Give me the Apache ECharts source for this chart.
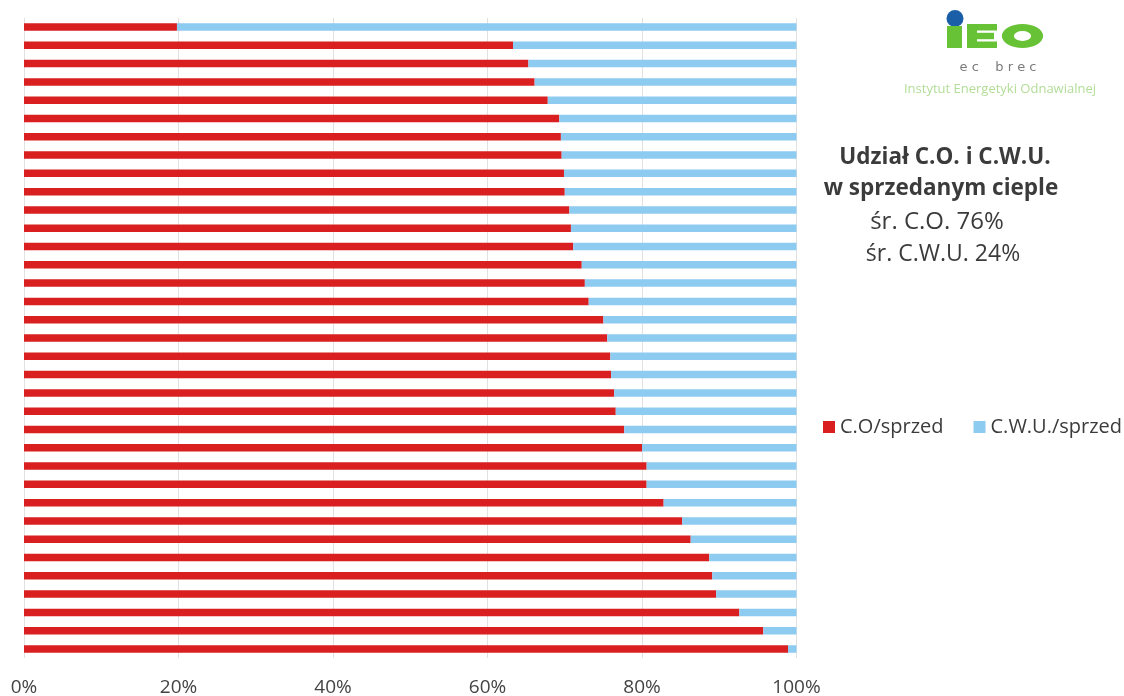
<!DOCTYPE html>
<html>
<head>
<meta charset="utf-8">
<script src="https://cdn.jsdelivr.net/npm/echarts@6/dist/echarts.min.js"></script>
<style>
  html, body { margin: 0; padding: 0; background: #ffffff; }
  #chart { width: 1124px; height: 696px; }
</style>
</head>
<body>
<div id="chart"></div>
<script>
// Heat plants, ordered from the lowest to the highest heating share
const categories = [
  '1', '2', '3', '4', '5', '6', '7', '8', '9', '10',
  '11', '12', '13', '14', '15', '16', '17', '18', '19', '20',
  '21', '22', '23', '24', '25', '26', '27', '28', '29', '30',
  '31', '32', '33', '34', '35'
];

// Share of space heating (C.O.) in heat sold, %
const coShare = [
  19.8, 63.3, 65.3, 66.1, 67.8, 69.3, 69.5, 69.6, 69.9, 70.0,
  70.6, 70.8, 71.1, 72.2, 72.6, 73.1, 75.0, 75.5, 75.9, 76.0,
  76.4, 76.6, 77.7, 80.0, 80.6, 80.6, 82.8, 85.2, 86.3, 88.7,
  89.1, 89.6, 92.6, 95.7, 98.9
];

// Share of domestic hot water (C.W.U.) in heat sold, %
const cwuShare = [
  80.2, 36.7, 34.7, 33.9, 32.2, 30.7, 30.5, 30.4, 30.1, 30.0,
  29.4, 29.2, 28.9, 27.8, 27.4, 26.9, 25.0, 24.5, 24.1, 24.0,
  23.6, 23.4, 22.3, 20.0, 19.4, 19.4, 17.2, 14.8, 13.7, 11.3,
  10.9, 10.4, 7.4, 4.3, 1.1
];

const seriesNames = ['C.O/sprzed', 'C.W.U./sprzed'];
const titleLines = ['Udział C.O. i C.W.U.', 'w sprzedanym cieple'];
const averageLines = ['śr. C.O. 76%', 'śr. C.W.U. 24%'];

const textColor = '#3b3b3b';
const baseFont = '"Open Sans", "Noto Sans", sans-serif';
const logoGreen = '#67c236';

const chart = echarts.init(document.getElementById('chart'), null, { renderer: 'canvas' });

chart.setOption({
  backgroundColor: '#ffffff',
  animation: false,
  grid: {
    left: 24,
    right: 327.5,
    top: 17.85,
    bottom: 37.85,
    containLabel: false,
    outerBoundsMode: 'none'
  },
  legend: {
    data: seriesNames,
    orient: 'horizontal',
    left: 823,
    top: 417,
    width: 340,
    padding: 0,
    icon: 'rect',
    itemWidth: 12,
    itemHeight: 12,
    itemGap: 30,
    textStyle: { fontSize: 20, color: textColor, fontFamily: baseFont }
  },
  xAxis: {
    type: 'value',
    min: 0,
    max: 100,
    interval: 20,
    axisLine: { show: false },
    axisTick: { show: false },
    splitLine: { show: true, lineStyle: { color: '#e1e1e1', width: 1 } },
    axisLabel: {
      formatter: '{value}%',
      fontSize: 19,
      color: '#444444',
      fontFamily: baseFont,
      margin: 20
    }
  },
  yAxis: {
    type: 'category',
    data: categories,
    inverse: true,
    axisLine: { show: false },
    axisTick: { show: false },
    axisLabel: { show: false },
    splitLine: { show: false }
  },
  series: [
    {
      name: seriesNames[0],
      type: 'bar',
      stack: 'share',
      data: coShare,
      barWidth: 7.5,
      itemStyle: { color: '#d91f1f' }
    },
    {
      name: seriesNames[1],
      type: 'bar',
      stack: 'share',
      data: cwuShare,
      barWidth: 7.5,
      itemStyle: { color: '#8ecbf1' }
    }
  ],
  graphic: [
    // IEO logo: blue dot, green stem, block letters E and O
    { type: 'circle', shape: { cx: 955, cy: 18.5, r: 8.5 }, style: { fill: '#1b5ea8' } },
    { type: 'rect', shape: { x: 947, y: 26, width: 15, height: 22 }, style: { fill: logoGreen } },
    { type: 'rect', shape: { x: 967, y: 24, width: 10, height: 24 }, style: { fill: logoGreen } },
    { type: 'rect', shape: { x: 967, y: 24, width: 30, height: 6.5 }, style: { fill: logoGreen } },
    { type: 'rect', shape: { x: 967, y: 32.8, width: 27, height: 6.4 }, style: { fill: logoGreen } },
    { type: 'rect', shape: { x: 967, y: 41.5, width: 30, height: 6.5 }, style: { fill: logoGreen } },
    {
      type: 'ring', x: 1022.5, y: 36, scaleX: 1.72,
      shape: { cx: 0, cy: 0, r: 12, r0: 5 },
      style: { fill: logoGreen }
    },
    {
      type: 'text', x: 998, y: 68,
      style: {
        text: 'e c    b r e c', fill: '#7a7a7a',
        font: '13px "DejaVu Sans", sans-serif',
        textAlign: 'center', textVerticalAlign: 'middle'
      }
    },
    {
      type: 'text', x: 1000, y: 89,
      style: {
        text: 'Instytut Energetyki Odnawialnej', fill: '#b2dd98',
        font: '13px "Open Sans", sans-serif',
        textAlign: 'center', textVerticalAlign: 'middle'
      }
    },
    // Title and averages
    {
      type: 'text', x: 945, y: 158,
      style: {
        text: titleLines[0], fill: textColor,
        font: 'bold 22.5px ' + baseFont,
        textAlign: 'center', textVerticalAlign: 'middle'
      }
    },
    {
      type: 'text', x: 941, y: 189,
      style: {
        text: titleLines[1], fill: textColor,
        font: 'bold 22.5px ' + baseFont,
        textAlign: 'center', textVerticalAlign: 'middle'
      }
    },
    {
      type: 'text', x: 937, y: 222,
      style: {
        text: averageLines[0], fill: textColor,
        font: '24px ' + baseFont,
        textAlign: 'center', textVerticalAlign: 'middle'
      }
    },
    {
      type: 'text', x: 943, y: 254,
      style: {
        text: averageLines[1], fill: textColor,
        font: '23px ' + baseFont,
        textAlign: 'center', textVerticalAlign: 'middle'
      }
    }
  ]
});
</script>
</body>
</html>
